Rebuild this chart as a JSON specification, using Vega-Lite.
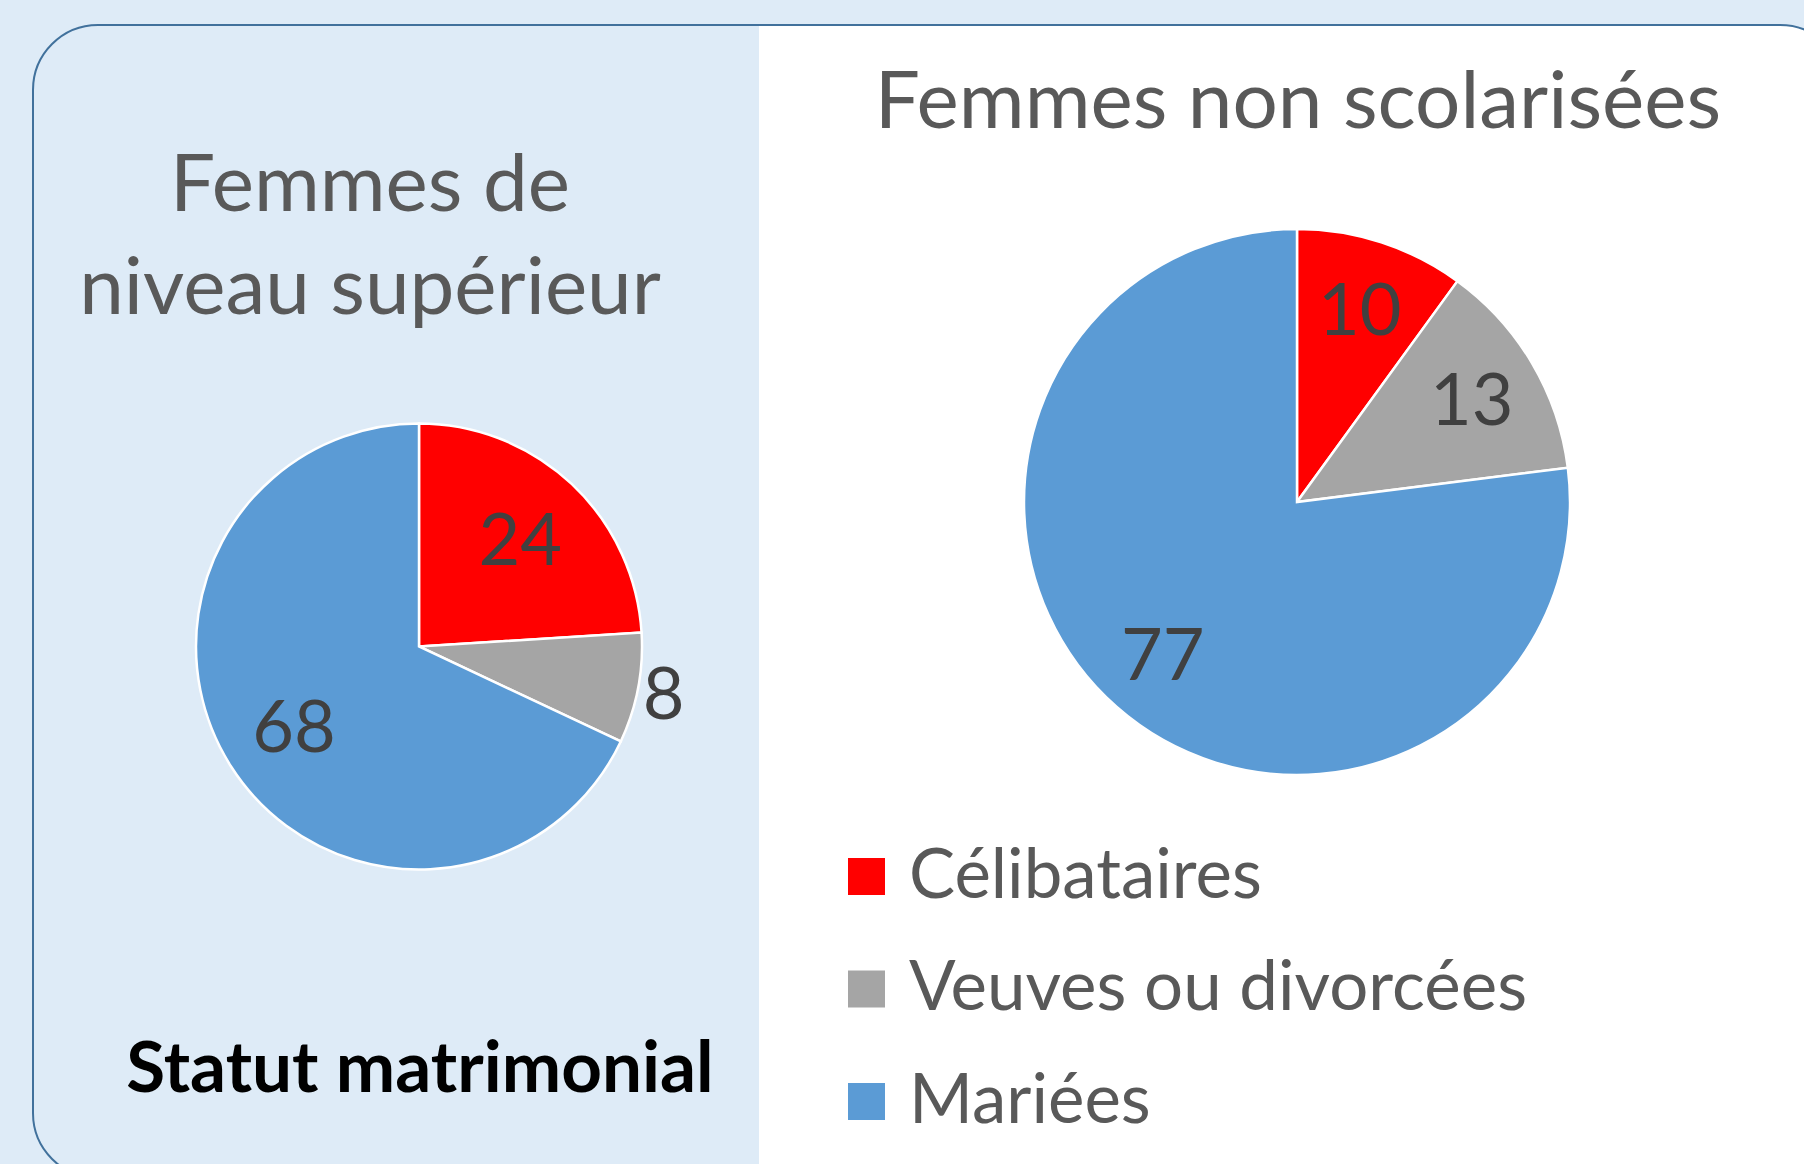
{
  "$schema": "https://vega.github.io/schema/vega-lite/v6.json",
  "background": "#DEEBF7",
  "padding": {"left": 32, "top": 24, "right": 0, "bottom": 0},
  "datasets": {
    "statut": [
      {"groupe": "Femmes de niveau supérieur", "statut": "Célibataires", "rang": 1, "pct": 24},
      {"groupe": "Femmes de niveau supérieur", "statut": "Veuves ou divorcées", "rang": 2, "pct": 8},
      {"groupe": "Femmes de niveau supérieur", "statut": "Mariées", "rang": 3, "pct": 68},
      {"groupe": "Femmes non scolarisées", "statut": "Célibataires", "rang": 1, "pct": 10},
      {"groupe": "Femmes non scolarisées", "statut": "Veuves ou divorcées", "rang": 2, "pct": 13},
      {"groupe": "Femmes non scolarisées", "statut": "Mariées", "rang": 3, "pct": 77}
    ]
  },
  "bounds": "flush",
  "spacing": 726,
  "hconcat": [
    {
      "bounds": "flush",
      "spacing": 0,
      "vconcat": [
        {
          "width": 800,
          "height": 335,
          "view": {"stroke": "#41719C", "strokeWidth": 2, "cornerRadiusTopLeft": 65, "fill": null, "strokeDash": [1070, 800, 2000]},
          "title": {
            "text": ["Femmes de", "niveau supérieur"],
            "orient": "top", "anchor": "middle", "frame": "group",
            "baseline": "top", "lineHeight": 103, "offset": -305.5, "dx": -63,
            "font": "Lato", "fontSize": 80, "fontWeight": "normal", "color": "#595959"
          },
          "data": {"values": []},
          "mark": "text"
        },
        {
          "width": 772,
          "height": 573,
          "view": {"stroke": "#41719C", "strokeWidth": 2, "fill": null, "strokeDash": [573, 2117], "strokeDashOffset": 573},
          "data": {"name": "statut"},
          "transform": [{"filter": "datum.groupe === 'Femmes de niveau supérieur'"}],
          "encoding": {
            "theta": {"field": "pct", "type": "quantitative", "stack": true},
            "order": {"field": "rang", "type": "quantitative"},
            "color": {
              "field": "statut", "type": "nominal",
              "scale": {"domain": ["Célibataires", "Veuves ou divorcées", "Mariées"], "range": ["#FF0000", "#A5A5A5", "#5B9BD5"]},
              "legend": {
                "title": null, "orient": "none", "legendX": 799, "legendY": 817, "direction": "vertical",
                "symbolType": "square", "symbolSize": 1369, "symbolStrokeWidth": 0,
                "labelFont": "Lato", "labelFontSize": 69, "labelColor": "#595959",
                "rowPadding": 42.5, "labelOffset": 8, "padding": 0, "labelLimit": 0
              }
            }
          },
          "layer": [
            {"mark": {"type": "arc", "outerRadius": 223, "stroke": "#FFFFFF", "strokeWidth": 2.5}},
            {
              "mark": {"type": "text", "font": "Lato", "fontSize": 72, "dy": 4},
              "encoding": {
                "text": {"field": "pct", "type": "quantitative"},
                "color": {"value": "#404040"},
                "radius": {"field": "pct", "type": "quantitative", "scale": {"domain": [9, 10], "range": [249, 148], "clamp": true, "zero": false}}
              }
            }
          ]
        },
        {
          "width": 800,
          "height": 245,
          "view": {"stroke": "#41719C", "strokeWidth": 2, "cornerRadiusBottomLeft": 65, "fill": null, "strokeDash": [2000, 800], "strokeDashOffset": 2000},
          "title": {
            "text": "Statut matrimonial",
            "orient": "top", "anchor": "middle", "frame": "group",
            "baseline": "top", "offset": -173.5, "dx": -13,
            "font": "Lato", "fontSize": 71, "fontWeight": "bold", "color": "#000000"
          },
          "data": {"values": []},
          "mark": "text"
        }
      ]
    },
    {
      "bounds": "flush",
      "spacing": 0,
      "vconcat": [
        {
          "width": 1086,
          "height": 150,
          "view": {"stroke": "#41719C", "strokeWidth": 2, "cornerRadiusTopRight": 65, "fill": "#FFFFFF", "strokeDash": [1210, 1300]},
          "title": {
            "text": "Femmes non scolarisées",
            "orient": "top", "anchor": "middle", "frame": "group",
            "baseline": "top", "offset": -120, "dx": -4,
            "font": "Lato", "fontSize": 80, "fontWeight": "normal", "color": "#595959"
          },
          "data": {"values": []},
          "mark": "text"
        },
        {
          "width": 1076,
          "height": 654,
          "view": {"fill": "#FFFFFF"},
          "data": {"name": "statut"},
          "transform": [{"filter": "datum.groupe === 'Femmes non scolarisées'"}],
          "encoding": {
            "theta": {"field": "pct", "type": "quantitative", "stack": true},
            "order": {"field": "rang", "type": "quantitative"},
            "color": {
              "field": "statut", "type": "nominal",
              "scale": {"domain": ["Célibataires", "Veuves ou divorcées", "Mariées"], "range": ["#FF0000", "#A5A5A5", "#5B9BD5"]}
            }
          },
          "layer": [
            {"mark": {"type": "arc", "outerRadius": 273, "stroke": "#FFFFFF", "strokeWidth": 2.5}},
            {
              "mark": {"type": "text", "radius": 203, "font": "Lato", "fontSize": 72, "dy": 4},
              "encoding": {
                "text": {"field": "pct", "type": "quantitative"},
                "color": {"value": "#404040"}
              }
            }
          ]
        },
        {
          "width": 1086,
          "height": 349,
          "view": {"fill": "#FFFFFF"},
          "data": {"values": []},
          "mark": "text"
        }
      ]
    }
  ],
  "config": {
    "view": {"stroke": null},
    "font": "Lato"
  }
}
